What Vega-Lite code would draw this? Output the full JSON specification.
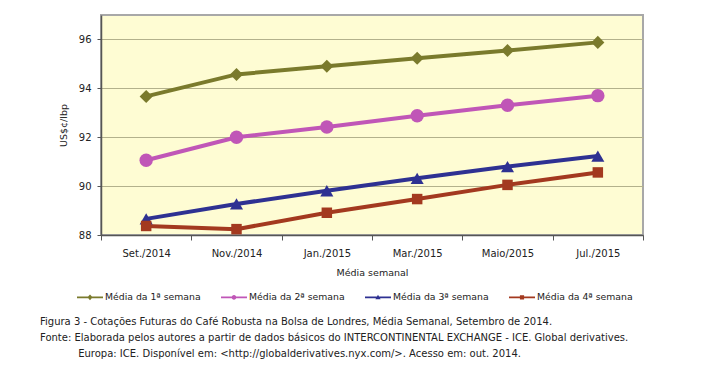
{
  "$schema": "https://vega.github.io/schema/vega-lite/v6.json",
  "width": 542,
  "height": 220,
  "autosize": {"type": "none"},
  "padding": {"left": 101, "top": 15, "right": 68, "bottom": 156},
  "background": "white",
  "config": {
    "font": "DejaVu Sans",
    "view": {"fill": "#FEFCD3", "stroke": "#A8A8A8", "strokeWidth": 2},
    "axis": {"labelFont": "DejaVu Sans", "titleFont": "DejaVu Sans", "labelFontSize": 10, "titleFontSize": 9.5, "titleFontWeight": "normal", "labelColor": "#222", "titleColor": "#222", "domainColor": "#555", "tickColor": "#555"},
    "legend": {"orient": "none", "legendX": -24, "legendY": 269, "direction": "horizontal", "title": null, "symbolSize": 676, "symbolStrokeWidth": 0, "labelFontSize": 9.3, "labelFont": "DejaVu Sans", "labelColor": "#222", "labelOffset": 2, "columnPadding": 20}
  },
  "title": {
    "text": "Figura 3 - Cotações Futuras do Café Robusta na Bolsa de Londres, Média Semanal, Setembro de 2014.",
    "subtitle": ["Fonte: Elaborada pelos autores a partir de dados básicos do INTERCONTINENTAL EXCHANGE - ICE. Global derivatives.", "\u200b\u00a0\u00a0\u00a0\u00a0\u00a0\u00a0\u00a0\u00a0\u00a0\u00a0\u00a0\u00a0Europa: ICE. Disponível em: <http://globalderivatives.nyx.com/>. Acesso em: out. 2014."],
    "orient": "bottom",
    "anchor": "start",
    "frame": "group",
    "dx": -61,
    "offset": 14,
    "font": "DejaVu Sans",
    "fontSize": 10,
    "fontWeight": "normal",
    "color": "#222",
    "subtitleFont": "DejaVu Sans",
    "subtitleFontSize": 10,
    "subtitleColor": "#222",
    "subtitleLineHeight": 16,
    "subtitlePadding": 6
  },
  "data": {
    "values": [
      {"mes": "Set./2014", "serie": "Média da 1ª semana", "valor": 93.67},
      {"mes": "Nov./2014", "serie": "Média da 1ª semana", "valor": 94.57},
      {"mes": "Jan./2015", "serie": "Média da 1ª semana", "valor": 94.9},
      {"mes": "Mar./2015", "serie": "Média da 1ª semana", "valor": 95.23},
      {"mes": "Maio/2015", "serie": "Média da 1ª semana", "valor": 95.55},
      {"mes": "Jul./2015", "serie": "Média da 1ª semana", "valor": 95.88},
      {"mes": "Set./2014", "serie": "Média da 2ª semana", "valor": 91.06},
      {"mes": "Nov./2014", "serie": "Média da 2ª semana", "valor": 92.0},
      {"mes": "Jan./2015", "serie": "Média da 2ª semana", "valor": 92.42},
      {"mes": "Mar./2015", "serie": "Média da 2ª semana", "valor": 92.88},
      {"mes": "Maio/2015", "serie": "Média da 2ª semana", "valor": 93.31},
      {"mes": "Jul./2015", "serie": "Média da 2ª semana", "valor": 93.7},
      {"mes": "Set./2014", "serie": "Média da 3ª semana", "valor": 88.66},
      {"mes": "Nov./2014", "serie": "Média da 3ª semana", "valor": 89.27},
      {"mes": "Jan./2015", "serie": "Média da 3ª semana", "valor": 89.81},
      {"mes": "Mar./2015", "serie": "Média da 3ª semana", "valor": 90.32},
      {"mes": "Maio/2015", "serie": "Média da 3ª semana", "valor": 90.8},
      {"mes": "Jul./2015", "serie": "Média da 3ª semana", "valor": 91.23},
      {"mes": "Set./2014", "serie": "Média da 4ª semana", "valor": 88.37},
      {"mes": "Nov./2014", "serie": "Média da 4ª semana", "valor": 88.24},
      {"mes": "Jan./2015", "serie": "Média da 4ª semana", "valor": 88.91},
      {"mes": "Mar./2015", "serie": "Média da 4ª semana", "valor": 89.47},
      {"mes": "Maio/2015", "serie": "Média da 4ª semana", "valor": 90.05},
      {"mes": "Jul./2015", "serie": "Média da 4ª semana", "valor": 90.56}
    ]
  },
  "encoding": {
    "x": {
      "field": "mes", "type": "nominal",
      "sort": ["Set./2014", "Nov./2014", "Jan./2015", "Mar./2015", "Maio/2015", "Jul./2015"],
      "scale": {"type": "band", "paddingInner": 0, "paddingOuter": 0},
      "axis": {"title": "Média semanal", "labelAngle": 0, "tickBand": "extent", "grid": false, "tickSize": 5, "labelPadding": 8, "titlePadding": 9, "domainWidth": 1.5}
    },
    "y": {
      "field": "valor", "type": "quantitative",
      "scale": {"domain": [88, 97], "nice": false, "zero": false},
      "axis": {"title": "US$¢/lbp", "values": [88, 90, 92, 94, 96], "grid": true, "gridColor": "#B3B18C", "gridWidth": 1, "tickSize": 4, "labelPadding": 6, "titlePadding": 10, "domainWidth": 1.5}
    },
    "color": {"field": "serie", "type": "nominal",
      "scale": {"domain": ["Média da 1ª semana", "Média da 2ª semana", "Média da 3ª semana", "Média da 4ª semana"], "range": ["#7A7A2C", "#C056B7", "#2E3192", "#A3391F"]}}
  },
  "layer": [
    {
      "mark": {"type": "line", "strokeWidth": 4}
    },
    {
      "transform": [{"filter": "datum.serie === 'Média da 1ª semana'"}],
      "mark": {"type": "point", "shape": "diamond", "filled": true, "opacity": 1, "size": 170}
    },
    {
      "transform": [{"filter": "datum.serie === 'Média da 2ª semana'"}],
      "mark": {"type": "point", "shape": "circle", "filled": true, "opacity": 1, "size": 180}
    },
    {
      "transform": [{"filter": "datum.serie === 'Média da 3ª semana'"}],
      "mark": {"type": "point", "shape": "triangle-up", "filled": true, "opacity": 1, "size": 170}
    },
    {
      "transform": [{"filter": "datum.serie === 'Média da 4ª semana'"}],
      "mark": {"type": "point", "shape": "square", "filled": true, "opacity": 1, "size": 110}
    },
    {
      "mark": {"type": "point", "filled": true, "opacity": 1, "size": 0},
      "encoding": {
        "shape": {"field": "serie", "type": "nominal",
          "scale": {"domain": ["Média da 1ª semana", "Média da 2ª semana", "Média da 3ª semana", "Média da 4ª semana"],
            "range": [
              "M-1,-0.06H1V0.06H-1Z M0,-0.22L0.2,0L0,0.22L-0.2,0Z",
              "M-1,-0.06H1V0.06H-1Z M-0.18,0A0.18,0.18 0 1,1 0.18,0A0.18,0.18 0 1,1 -0.18,0Z",
              "M-1,-0.06H1V0.06H-1Z M0,-0.2L0.2,0.15L-0.2,0.15Z",
              "M-1,-0.06H1V0.06H-1Z M-0.16,-0.16H0.16V0.16H-0.16Z"
            ]}}
      }
    }
  ]
}
